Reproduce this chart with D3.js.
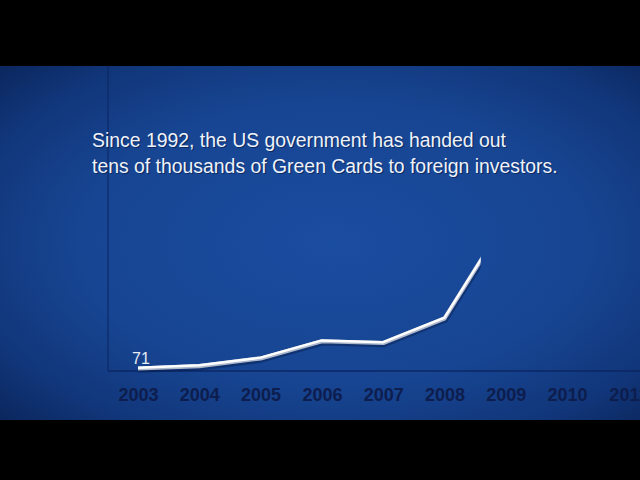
<!DOCTYPE html>
<html>
<head>
<meta charset="utf-8">
<script src="https://cdn.jsdelivr.net/npm/d3@7/dist/d3.min.js"></script>
<style>
  html, body { margin: 0; padding: 0; background: #000; }
  svg { display: block; }
</style>
</head>
<body>
<svg id="chart" width="640" height="480"></svg>
<script>
// ---- data ----
const years = [2003, 2004, 2005, 2006, 2007, 2008, 2009];
const visas = [71, 140, 360, 850, 800, 1500, 4300];
const tickYears = [2003, 2004, 2005, 2006, 2007, 2008, 2009, 2010, 2011];
const firstLabel = "71";
const titleLines = [
  "Since 1992, the US government has handed out",
  "tens of thousands of Green Cards to foreign investors."
];
const revealYear = 2008.59; // the line is drawn only up to here (animation frame)

const W = 640, H = 480;
const svg = d3.select("#chart");
const defs = svg.append("defs");

// background gradient
const rg = defs.append("radialGradient").attr("id", "bg")
  .attr("cx", "0.52").attr("cy", "0.5").attr("r", "0.72")
  .attr("gradientUnits", "objectBoundingBox");
rg.append("stop").attr("offset", "0%").attr("stop-color", "#1a4ca0");
rg.append("stop").attr("offset", "55%").attr("stop-color", "#174592");
rg.append("stop").attr("offset", "82%").attr("stop-color", "#11367a");
rg.append("stop").attr("offset", "100%").attr("stop-color", "#0b275e");

svg.append("rect").attr("width", W).attr("height", H).attr("fill", "#000");
svg.append("rect").attr("x", 0).attr("y", 66).attr("width", W).attr("height", 354).attr("fill", "url(#bg)");

// scales
const x = d3.scaleLinear().domain([2003, 2011]).range([138, 628.4]);
const y = d3.scaleLinear().domain([0, 4500]).range([371, 213.5]);

// axes lines
svg.append("line").attr("x1", 108).attr("x2", 108).attr("y1", 66).attr("y2", 371)
  .attr("stroke", "#0b2460").attr("stroke-opacity", 0.8).attr("stroke-width", 1.2);
svg.append("line").attr("x1", 108).attr("x2", W).attr("y1", 371).attr("y2", 371)
  .attr("stroke", "#0b2460").attr("stroke-opacity", 0.9).attr("stroke-width", 1.4);

// x axis
const axis = d3.axisBottom(x).tickValues(tickYears).tickFormat(d3.format("d"))
  .tickSize(0).tickPadding(17);
const gx = svg.append("g").attr("transform", "translate(0,371)").call(axis);
gx.select(".domain").remove();
gx.selectAll("text")
  .attr("fill", "#0d1d4e")
  .attr("font-family", "Liberation Sans, Arial, sans-serif")
  .attr("font-weight", "bold")
  .attr("font-size", "18px");

// title
const title = svg.append("g").attr("font-family", "Liberation Sans, Arial, sans-serif")
  .attr("font-size", "19.4px");
titleLines.forEach((t, i) => {
  title.append("text").attr("x", 93.2).attr("y", 148.2 + i * 26).attr("fill", "#041236")
    .attr("fill-opacity", 0.55).text(t);
  title.append("text").attr("x", 92).attr("y", 147 + i * 26).attr("fill", "#eef2fa").text(t);
});

// line
defs.append("clipPath").attr("id", "reveal").append("rect")
  .attr("x", 0).attr("y", 0).attr("width", x(revealYear)).attr("height", H);
const data = years.map((yr, i) => ({ yr, v: visas[i] }));
const line = d3.line().x(d => x(d.yr)).y(d => y(d.v));
const lg = svg.append("g").attr("clip-path", "url(#reveal)");
lg.append("path").datum(data).attr("d", line).attr("fill", "none")
  .attr("stroke", "#061a4a").attr("stroke-opacity", 0.45).attr("stroke-width", 5)
  .attr("stroke-linejoin", "round").attr("transform", "translate(0.8,1.8)");
lg.append("path").datum(data).attr("d", line).attr("fill", "none")
  .attr("stroke", "#aeb9cc").attr("stroke-width", 4.2)
  .attr("stroke-linejoin", "round");
lg.append("path").datum(data).attr("d", line).attr("fill", "none")
  .attr("stroke", "#ffffff").attr("stroke-width", 2.4)
  .attr("stroke-linejoin", "round").attr("transform", "translate(0,-0.8)");

// first value label
svg.append("text").attr("x", x(years[0]) - 6).attr("y", y(visas[0]) - 5)
  .attr("font-family", "Liberation Sans, Arial, sans-serif").attr("font-size", "16px")
  .attr("fill", "#e6ecf6").text(firstLabel);
</script>
</body>
</html>
